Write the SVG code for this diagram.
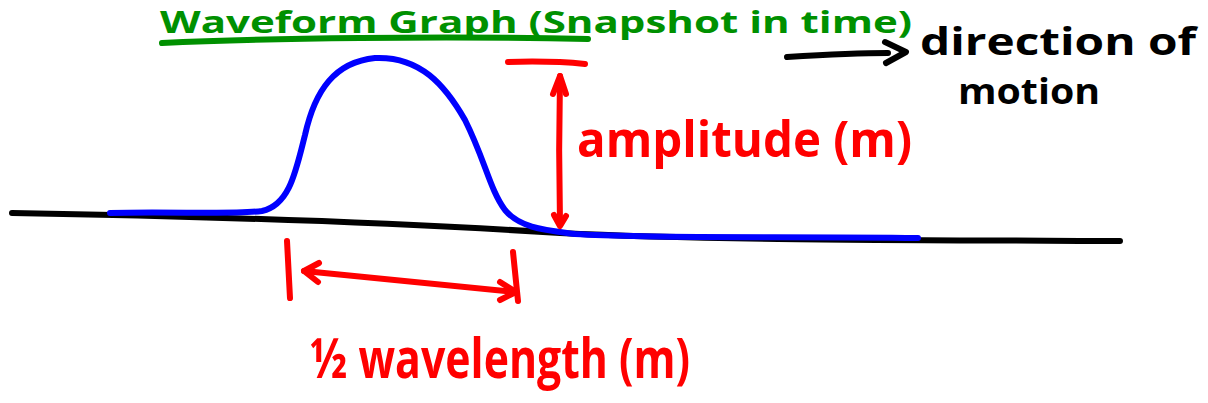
<svg xmlns="http://www.w3.org/2000/svg" width="1208" height="403" viewBox="0 0 1208 403">
<style>
.ln{fill:none;stroke-linecap:round;stroke-linejoin:round;stroke-width:6}
.red{stroke:#ff0000}
.blk{stroke:#000}
.t{font-family:"Open Sans","Liberation Sans",sans-serif;font-weight:bold}
</style>
<rect width="1208" height="403" fill="#fff"/>
<g id="title">
<text class="t" x="160" y="33" font-size="30" fill="#009000" textLength="752" lengthAdjust="spacingAndGlyphs">Waveform Graph (Snapshot in time)</text>
<path class="ln" d="M162,43 C260,38 450,36 588,39" stroke="#009000" stroke-width="7"/>
</g>
<g id="axis">
<path class="ln blk" d="M12,213 C250,217 450,226 560,233 C700,240 900,240 1120,241"/>
</g>
<g id="wave">
<path class="ln" stroke="#0000ff" d="M110,213 C170,211 230,215 262,211 C290,205 296,170 305,135 C315,90 335,62 375,58 C420,56 445,85 465,120 C485,160 490,190 505,210 C520,228 545,230 575,234 C650,239 800,236 918,238"/>
</g>
<g id="amplitude">
<path class="ln red" d="M508,62 C540,61 565,62 585,64"/>
<path class="ln red" d="M560,224 C559,180 559,120 560,76"/>
<path class="ln red" d="M553,94 L560,76 L566,94"/>
<path class="ln red" d="M554,215 L560,226 L566,216"/>
<text class="t" x="577" y="157" font-size="50" fill="#ff0000" textLength="335" lengthAdjust="spacingAndGlyphs">amplitude (m)</text>
</g>
<g id="halfwave">
<path class="ln red" d="M287,241 L290,298"/>
<path class="ln red" d="M513,252 L518,301"/>
<path class="ln red" d="M304,271 C380,279 450,286 516,292"/>
<path class="ln red" d="M319,263 L304,271 L318,282"/>
<path class="ln red" d="M500,282 L516,292 L500,300"/>
<text class="t" x="310" y="378" font-size="56" fill="#ff0000" textLength="380" lengthAdjust="spacingAndGlyphs">½ wavelength (m)</text>
</g>
<g id="direction">
<path class="ln blk" d="M787,57 C820,55 855,53 888,53"/>
<path class="ln blk" d="M885,42 L906,52 L886,63"/>
<text class="t" x="920" y="55" font-size="38" fill="#000" textLength="276" lengthAdjust="spacingAndGlyphs">direction of</text>
<text class="t" x="958" y="104" font-size="36" fill="#000" textLength="142" lengthAdjust="spacingAndGlyphs">motion</text>
</g>
</svg>
